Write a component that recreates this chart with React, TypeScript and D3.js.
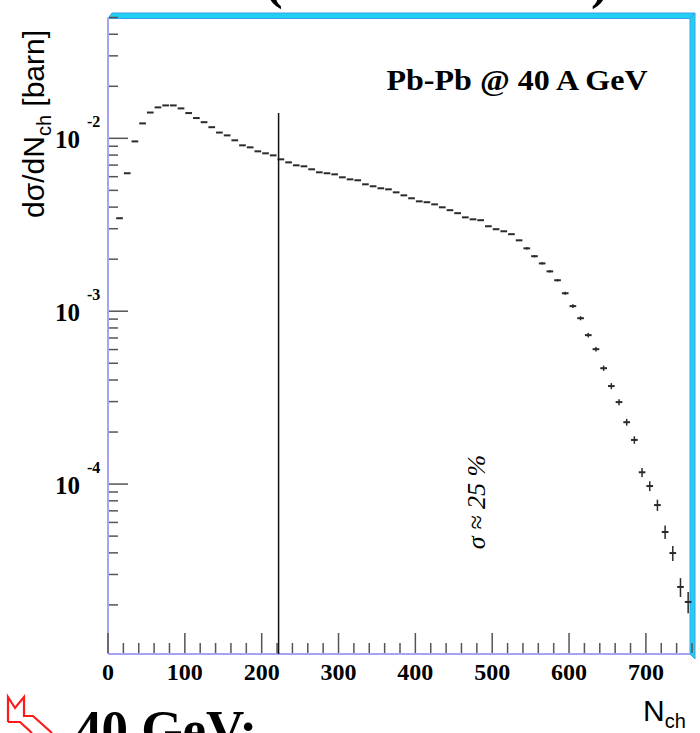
import React from "react";
import * as d3 from "d3";

// ---- data ----
const nchCenters = [
  15, 25, 35, 45, 55, 65, 75, 85, 95, 105, 115, 125, 135, 145, 155, 165, 175, 185, 195, 205,
  215, 225, 235, 245, 255, 265, 275, 285, 295, 305, 315, 325, 335, 345, 355, 365, 375, 385, 395, 405,
  415, 425, 435, 445, 455, 465, 475, 485, 495, 505, 515, 525, 535, 545, 555, 565, 575, 585, 595, 605,
  615, 625, 635, 645, 655, 665, 675, 685, 695, 705, 715, 725, 735, 745, 755,
];
const dsigma = [
  3.45e-3, 6.28e-3, 9.6e-3, 1.22e-2, 1.41e-2, 1.51e-2, 1.55e-2, 1.55e-2, 1.49e-2, 1.4e-2,
  1.31e-2, 1.24e-2, 1.16e-2, 1.08e-2, 1.04e-2, 9.74e-3, 9.11e-3, 8.87e-3, 8.41e-3, 8.19e-3,
  7.97e-3, 7.56e-3, 7.26e-3, 6.98e-3, 6.89e-3, 6.62e-3, 6.36e-3, 6.28e-3, 6.19e-3, 5.95e-3,
  5.79e-3, 5.72e-3, 5.42e-3, 5.28e-3, 5.14e-3, 5.07e-3, 4.87e-3, 4.68e-3, 4.5e-3, 4.32e-3,
  4.27e-3, 4.15e-3, 3.99e-3, 3.84e-3, 3.69e-3, 3.49e-3, 3.4e-3, 3.36e-3, 3.1e-3, 2.98e-3,
  2.9e-3, 2.79e-3, 2.57e-3, 2.31e-3, 2.08e-3, 1.89e-3, 1.7e-3, 1.51e-3, 1.27e-3, 1.07e-3,
  9.11e-4, 7.27e-4, 6.03e-4, 4.68e-4, 3.69e-4, 2.98e-4, 2.28e-4, 1.8e-4, 1.17e-4, 9.74e-5,
  7.56e-5, 5.28e-5, 3.99e-5, 2.54e-5, 2.08e-5,
];
const relErr = [
  0, 0, 0, 0, 0, 0, 0, 0, 0, 0, 0, 0, 0, 0, 0, 0, 0, 0, 0, 0,
  0, 0, 0, 0, 0, 0, 0, 0, 0, 0, 0, 0, 0, 0, 0, 0, 0, 0, 0, 0,
  0, 0, 0, 0, 0, 0, 0, 0, 0, 0, 0, 0, 0, 0.015, 0.015, 0.015, 0.015, 0.015, 0.02, 0.025,
  0.027, 0.03, 0.03, 0.035, 0.04, 0.04, 0.045, 0.05, 0.06, 0.065, 0.075, 0.09, 0.1, 0.125, 0.14,
];
const binWidth = 10;
const xTickLabels = [0, 100, 200, 300, 400, 500, 600, 700];
const yDecades = [-2, -3, -4];
const cutN = 222;
const cutTop = 1.4e-2;
const xDomain = [0, 760];
const yDomain = [1.04e-5, 5e-2];

const SERIF = "'Liberation Serif', 'Times New Roman', serif";
const SANS = "'Liberation Sans', Arial, sans-serif";

export default function App() {
  const left = 108, right = 692, top = 17.5, bottom = 654;
  const x = d3.scaleLinear().domain(xDomain).range([left, right]);
  const y = d3.scaleLog().domain(yDomain).range([bottom, top]);

  // y ticks
  const yTicks: { v: number; major: boolean }[] = [];
  for (let e = -5; e <= -2; e++) {
    for (let k = 1; k <= 9; k++) {
      const v = k * Math.pow(10, e);
      if (v >= yDomain[0] && v <= yDomain[1]) yTicks.push({ v, major: k === 1 });
    }
  }
  const xTicks = d3.range(0, 761, 20);

  return (
    <svg
      width={700}
      height={733}
      style={{ position: "absolute", left: 0, top: 0, background: "#fff" }}
    >
      <rect x={0} y={0} width={700} height={733} fill="#fff" />
      {/* clipped title parentheses at top */}
      <text x={265} y={-2} fontFamily={SERIF} fontWeight="bold" fontSize={53}>(</text>
      <text x={591} y={-2} fontFamily={SERIF} fontWeight="bold" fontSize={53}>)</text>

      {/* frame */}
      <polygon
        points={`${left},${top + 1} ${left + 4},13 695,13 690,${top + 1}`}
        fill="#1fd0f4"
        stroke="#3a9ee6"
        strokeWidth={1}
      />
      <polygon
        points={`690,${top + 1} 695,13 695,659 690,${bottom}`}
        fill="#1fd0f4"
        stroke="#3a9ee6"
        strokeWidth={1}
      />
      <line x1={left} x2={left} y1={top} y2={bottom} stroke="#a4a4f2" strokeWidth={2} />
      <line x1={left} x2={690} y1={bottom} y2={bottom} stroke="#a4a4f2" strokeWidth={2} />

      {/* y ticks */}
      {yTicks.map((t, i) => (
        <line
          key={"yt" + i}
          x1={left + 1}
          x2={left + (t.major ? 20 : 10)}
          y1={y(t.v)}
          y2={y(t.v)}
          stroke="#555"
          strokeWidth={1.5}
        />
      ))}
      {yDecades.map((e) => {
        const yy = y(Math.pow(10, e));
        return (
          <g key={"yl" + e} fontFamily={SERIF} fontWeight="bold" fill="#000">
            <text x={80} y={yy + 10} fontSize={25} textAnchor="end">10</text>
            <text x={87} y={yy - 11} fontSize={16}>{e}</text>
          </g>
        );
      })}

      {/* x ticks */}
      {xTicks.map((t) => (
        <line
          key={"xt" + t}
          x1={x(t)}
          x2={x(t)}
          y1={bottom - 1}
          y2={bottom - (t % 100 === 0 ? 21 : 11)}
          stroke="#555"
          strokeWidth={1.5}
        />
      ))}
      {xTickLabels.map((t) => (
        <text
          key={"xl" + t}
          x={x(t)}
          y={680}
          fontFamily={SERIF}
          fontWeight="bold"
          fontSize={24}
          textAnchor="middle"
        >
          {t}
        </text>
      ))}

      {/* data */}
      <g stroke="#2a2a2a" strokeWidth={2}>
        {nchCenters.map((n, i) => {
          const v = dsigma[i];
          const yy = y(v);
          const err = relErr[i];
          return (
            <g key={"p" + i}>
              <line x1={x(n - binWidth / 2) + 0.5} x2={x(n + binWidth / 2) - 0.5} y1={yy} y2={yy} />
              {err > 0 && (
                <line x1={x(n)} x2={x(n)} y1={y(v * (1 + err))} y2={y(v * (1 - err))} strokeWidth={1.5} />
              )}
            </g>
          );
        })}
      </g>

      {/* centrality cut line */}
      <line x1={x(cutN)} x2={x(cutN)} y1={y(cutTop)} y2={bottom} stroke="#111" strokeWidth={1.5} />

      {/* annotations */}
      <text
        x={517}
        y={90}
        fontFamily={SERIF}
        fontWeight="bold"
        fontSize={29}
        textAnchor="middle"
        textLength={261}
        lengthAdjust="spacingAndGlyphs"
      >
        Pb-Pb @ 40 A GeV
      </text>
      <text
        transform="translate(485,502) rotate(-90)"
        fontFamily={SERIF}
        fontStyle="italic"
        fontSize={26}
        textAnchor="middle"
      >
        σ ≈ 25 %
      </text>

      {/* axis titles */}
      <text transform="translate(44,218) rotate(-90)" fontFamily={SANS} fontSize={30} fill="#000">
        dσ/dN
        <tspan fontSize={20} dy={7}>ch</tspan>
        <tspan dy={-7}> [barn]</tspan>
      </text>
      <text x={643} y={721} fontFamily={SANS} fontSize={30} fill="#000">
        N<tspan fontSize={20} dy={7}>ch</tspan>
      </text>

      {/* bottom-left slide remnants */}
      <g fill="none" stroke="#ff1a1a" strokeWidth={2.2} strokeLinejoin="miter">
        <polyline points="8,722 8,697 15,708 24,697 24,716 33,716 52,733" />
        <polyline points="8,722 20,722 32,733" />
      </g>
      <text x={75} y={747} fontFamily={SERIF} fontWeight="bold" fontSize={53}>40 GeV:</text>
    </svg>
  );
}
